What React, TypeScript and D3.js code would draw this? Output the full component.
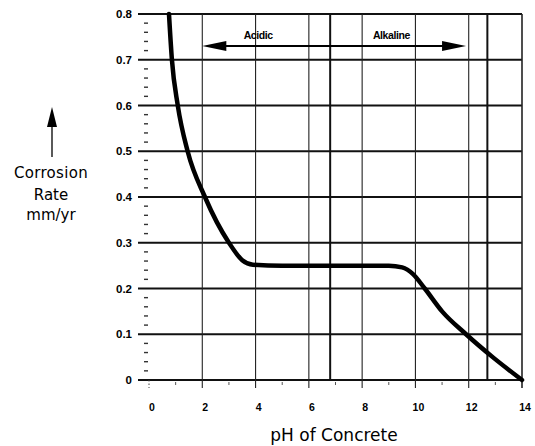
import * as d3 from 'd3';

// pH vs corrosion rate
const phValues = [0.75, 0.86, 1.08, 1.45, 2.1, 3.0, 3.5, 3.9, 5, 7, 9, 9.5, 9.9, 10.35, 11.0, 11.9, 12.9, 14];
const rateValues = [0.8, 0.7, 0.6, 0.5, 0.4, 0.3, 0.262, 0.252, 0.25, 0.25, 0.25, 0.246, 0.232, 0.2, 0.15, 0.1, 0.05, 0];

const xTicks = [0, 2, 4, 6, 8, 10, 12, 14];
const xTickLabels = ['0', '2', '4', '6', '8', '10', '12', '14'];
const yTicks = [0, 0.1, 0.2, 0.3, 0.4, 0.5, 0.6, 0.7, 0.8];
const yTickLabels = ['0', '0.1', '0.2', '0.3', '0.4', '0.5', '0.6', '0.7', '0.8'];
const markerLines = [6.8, 12.7];
const rangeArrow = [2, 11.9];

const W = 535, H = 446;

const App = () => {
    const x = d3.scaleLinear().domain([0, 14]).range([149, 522]);
    const y = d3.scaleLinear().domain([0, 0.8]).range([380, 14]);

    const pts: [number, number][] = phValues.map((p, i) => [p, rateValues[i]]);
    const line = d3.line<[number, number]>()
        .x(d => x(d[0]))
        .y(d => y(d[1]))
        .curve(d3.curveMonotoneX);

    const minorY = d3.range(0, 0.8, 0.02).filter((v, i) => i % 5 !== 0);
    const minorX = d3.range(0, 14, 1).filter(v => v % 2 === 1);

    const ay = y(0.73);
    const ax0 = x(rangeArrow[0]);
    const ax1 = x(rangeArrow[1]);
    const font = "'Liberation Sans', Arial, sans-serif";
    const wide = "'DejaVu Sans', sans-serif";

    return (
        <div style={{ position: 'absolute', left: 0, top: 0 }}>
            <svg width={W} height={H} style={{ display: 'block', background: '#fff' }} fontFamily={font}>
                {/* horizontal grid */}
                {yTicks.map((t, i) => (
                    <line key={'h' + i} x1={138} x2={x(14)} y1={y(t)} y2={y(t)}
                        stroke="#111" strokeWidth={t === 0.8 ? 2.2 : 1.8} />
                ))}
                {/* vertical grid */}
                {xTicks.slice(1).map((t, i) => (
                    <line key={'v' + i} x1={x(t)} x2={x(t)} y1={y(0.8)} y2={y(0) + 8}
                        stroke="#222" strokeWidth={t === 14 ? 1.6 : 1.1} />
                ))}
                <line x1={x(0)} x2={x(0)} y1={y(0)} y2={y(0) + 8} stroke="#444" strokeWidth={1} strokeDasharray="1.5 2" />
                {markerLines.map((m, i) => (
                    <line key={'m' + i} x1={x(m)} x2={x(m)} y1={y(0.8)} y2={y(0)}
                        stroke="#111" strokeWidth={2} />
                ))}
                {/* minor ticks */}
                {minorY.map((t, i) => (
                    <line key={'my' + i} x1={144} x2={148} y1={y(t)} y2={y(t)} stroke="#333" strokeWidth={1.4} />
                ))}
                {minorX.map((t, i) => (
                    <line key={'mx' + i} x1={x(t)} x2={x(t)} y1={y(0) + 2} y2={y(0) + 5} stroke="#555" strokeWidth={1} />
                ))}
                {/* curve */}
                <path d={line(pts) ?? ''} fill="none" stroke="#000" strokeWidth={4.5} strokeLinecap="round" />
                {/* acidic / alkaline arrow */}
                <line x1={ax0 + 20} x2={ax1 - 20} y1={ay} y2={ay} stroke="#000" strokeWidth={2} />
                <path d={`M${ax0},${ay} L${ax0 + 24},${ay - 5} L${ax0 + 24},${ay + 5} Z`} fill="#000" />
                <path d={`M${ax1},${ay} L${ax1 - 24},${ay - 5} L${ax1 - 24},${ay + 5} Z`} fill="#000" />
                <text x={x(4.1)} y={39} textAnchor="middle" fontSize={10.5} fontWeight="bold" letterSpacing={-0.4}>Acidic</text>
                <text x={x(9.1)} y={39} textAnchor="middle" fontSize={10.5} fontWeight="bold" letterSpacing={-0.4}>Alkaline</text>
                {/* tick labels */}
                {yTicks.map((t, i) => (
                    <text key={'yl' + i} x={132} y={y(t) + 4} textAnchor="end" fontSize={11.5} fontWeight="bold">{yTickLabels[i]}</text>
                ))}
                {xTicks.map((t, i) => (
                    <text key={'xl' + i} x={x(t) + 3} y={411} textAnchor="middle" fontSize={10.5} fontWeight="bold">{xTickLabels[i]}</text>
                ))}
                {/* axis titles */}
                <text x={334} y={441} textAnchor="middle" fontSize={17} fontFamily={wide}>pH of Concrete</text>
                <line x1={52} x2={52} y1={120} y2={157} stroke="#000" strokeWidth={1.3} />
                <path d="M52,107 L47,127 L57,127 Z" fill="#000" />
                <text x={51} y={178} textAnchor="middle" fontSize={15} fontFamily={wide} letterSpacing={0.3}>Corrosion</text>
                <text x={51} y={200} textAnchor="middle" fontSize={15} fontFamily={wide}>Rate</text>
                <text x={51} y={220} textAnchor="middle" fontSize={15} fontFamily={wide}>mm/yr</text>
            </svg>
        </div>
    );
};

export default App;
